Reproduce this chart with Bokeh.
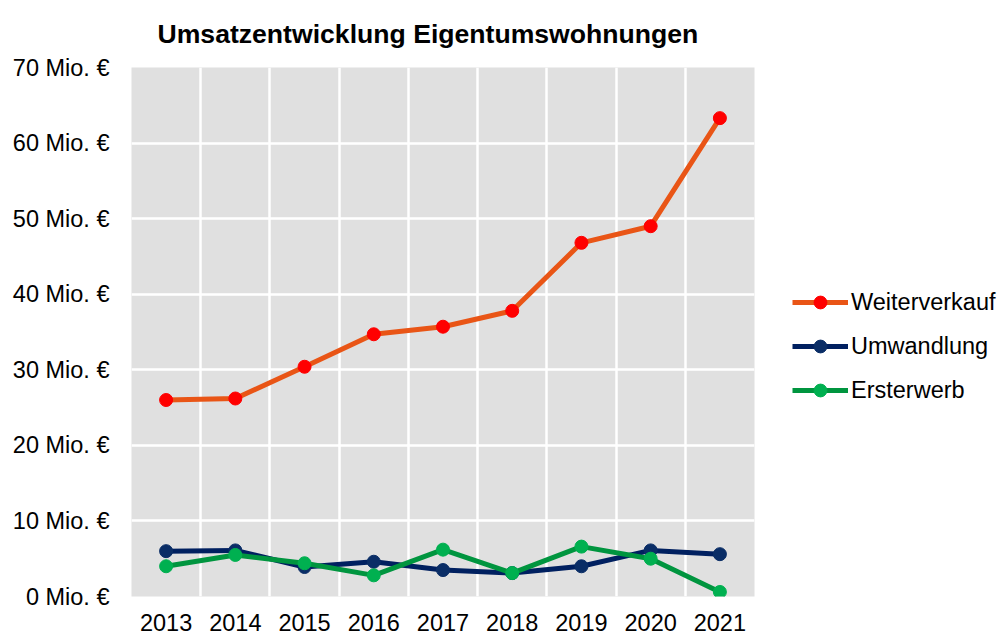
from bokeh.plotting import figure
from bokeh.models import FixedTicker, LegendItem, Legend, Title
from bokeh.embed import file_html
from bokeh.resources import INLINE

years = ["2013", "2014", "2015", "2016", "2017", "2018", "2019", "2020", "2021"]
weiterverkauf = [26.0, 26.2, 30.4, 34.7, 35.7, 37.8, 46.8, 49.0, 63.3]
umwandlung = [6.0, 6.1, 3.9, 4.6, 3.5, 3.1, 4.0, 6.1, 5.6]
ersterwerb = [4.0, 5.5, 4.4, 2.8, 6.2, 3.1, 6.6, 5.0, 0.6]
y_ticks = [0, 10, 20, 30, 40, 50, 60, 70]
y_labels = [f"{t} Mio. €" for t in y_ticks]
title_text = "Umsatzentwicklung Eigentumswohnungen"

FONT = "Liberation Sans"
FS = "23.5px"

xs = list(range(len(years)))

p = figure(frame_width=623, frame_height=529, output_backend="svg", toolbar_location=None,
           x_range=(-0.5, len(years) - 0.5), y_range=(0, 70),
           min_border_left=131, min_border_right=247, min_border_top=67, min_border_bottom=38)
p.title = Title(text=title_text, text_font=FONT,
                text_font_size="26.6px", text_font_style="bold", align="left", offset=26,
                text_color="black", vertical_align="top", standoff=34)
p.background_fill_color = "#E0E0E0"
p.border_fill_color = "white"
p.outline_line_color = None

p.xaxis.ticker = FixedTicker(ticks=xs)
p.xaxis.major_label_overrides = {i: y for i, y in enumerate(years)}
p.yaxis.ticker = FixedTicker(ticks=y_ticks)
p.yaxis.major_label_overrides = {t: l for t, l in zip(y_ticks, y_labels)}
for ax in (p.xaxis[0], p.yaxis[0]):
    ax.axis_line_color = None
    ax.major_tick_line_color = None
    ax.minor_tick_line_color = None
    ax.major_tick_out = 0
    ax.major_tick_in = 0
    ax.major_label_text_font = FONT
    ax.major_label_text_font_size = FS
    ax.major_label_text_color = "black"
p.xaxis.major_label_standoff = 17
p.yaxis.major_label_standoff = 22

p.xgrid.ticker = FixedTicker(ticks=[i + 0.5 for i in range(len(years) - 1)])
p.ygrid.ticker = FixedTicker(ticks=y_ticks)
for g in (p.xgrid[0], p.ygrid[0]):
    g.grid_line_color = "white"
    g.grid_line_width = 2.5

series = [
    ("Weiterverkauf", weiterverkauf, "#E95516", "#FF0000"),
    ("Umwandlung", umwandlung, "#002060", "#0A2D66"),
    ("Ersterwerb", ersterwerb, "#00953F", "#00B050"),
]
items = []
for name, vals, lc, mc in series:
    l = p.line(xs, vals, line_color=lc, line_width=5)
    c = p.scatter(xs, vals, size=13, fill_color=mc, line_color=mc)
    items.append(LegendItem(label=name, renderers=[l, c]))

legend = Legend(items=items, location=(38, 190), orientation="vertical",
                label_text_font=FONT, label_text_font_size=FS, label_text_color="black",
                glyph_width=56, glyph_height=32, spacing=12, label_standoff=3,
                border_line_color=None, background_fill_alpha=0, padding=0, margin=0)
p.add_layout(legend, "right")

open("out.html", "w").write(file_html(p, INLINE))
